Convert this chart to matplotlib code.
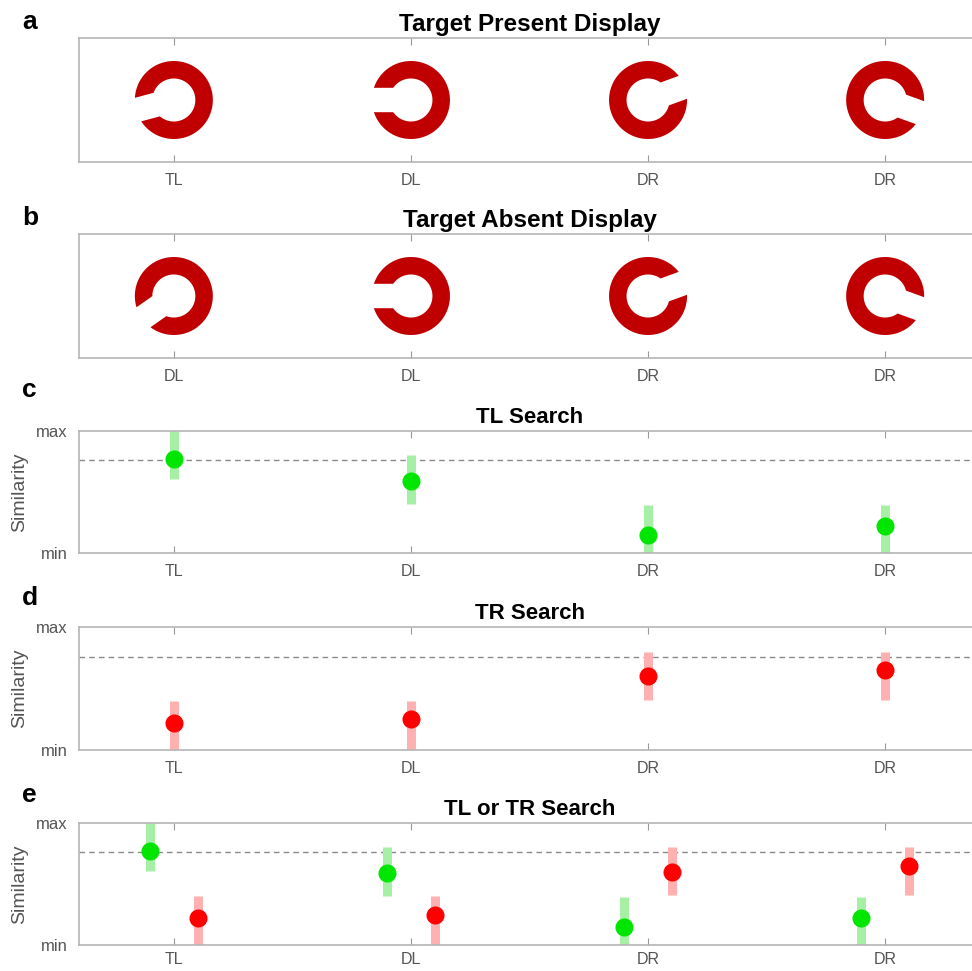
# Visual search displays and similarity estimates (panels a-e)

import numpy as np
import matplotlib
matplotlib.use("Agg")
import matplotlib.pyplot as plt
from matplotlib.patches import Polygon
from matplotlib.transforms import ScaledTranslation

plt.rcParams['font.family'] = ['Liberation Sans', 'DejaVu Sans']

# Data
positions = [1, 2, 3, 4]
present_labels = ["TL", "DL", "DR", "DR"]
absent_labels = ["DL", "DL", "DR", "DR"]
# gap direction of each ring (degrees, counter-clockwise from right)
present_gaps = [195, 180, 20, -20]
absent_gaps = [215, 180, 20, -20]

threshold = 0.76
tl_sim = [0.77, 0.59, 0.15, 0.22]
tl_low = [0.61, 0.40, 0.00, 0.00]
tl_high = [1.00, 0.80, 0.39, 0.39]
tr_sim = [0.22, 0.25, 0.60, 0.65]
tr_low = [0.00, 0.00, 0.41, 0.41]
tr_high = [0.40, 0.40, 0.80, 0.80]

gray = "#555555"
spine_gray = "#b5b5b5"
ring_red = "#c00000"
green = "#00e600"
green_light = "#a6f0a6"
red = "#ff0000"
red_light = "#ffb0b0"

fig = plt.figure(figsize=(9.72, 9.71), dpi=100)

L, W = 79 / 972, 901 / 972
H = 971


def make_ax(top, bottom, pad=8):
    ax = fig.add_axes([L, 1 - bottom / H, W, (bottom - top) / H])
    ax.set_xlim(0.6, 4.4)
    for s in ax.spines.values():
        s.set_color(spine_gray)
        s.set_linewidth(1.2)
    ax.tick_params(axis='x', direction='in', top=True, bottom=True,
                   length=5, color="#999999", labelcolor=gray,
                   labelsize=11.5, pad=pad)
    ax.set_xticks(positions)
    return ax


def ring_vertices(angle, R=0.39, r=0.215, h=0.122):
    # annulus with a parallel-sided slot, sizes in inches
    th = np.deg2rad(angle)
    ao = np.arcsin(h / R)
    ai = np.arcsin(h / r)
    outer = np.linspace(th + ao, th + 2 * np.pi - ao, 200)
    inner = np.linspace(th + 2 * np.pi - ai, th + ai, 120)
    xs = np.concatenate([R * np.cos(outer), r * np.cos(inner)])
    ys = np.concatenate([R * np.sin(outer), r * np.sin(inner)])
    return np.column_stack([xs, ys])


def draw_display(ax, labels, gaps, title):
    ax.set_ylim(0, 1)
    ax.set_yticks([])
    ax.set_xticklabels(labels)
    ax.set_title(title, fontsize=17.5, fontweight='bold', pad=5)
    for x, g in zip(positions, gaps):
        tr = fig.dpi_scale_trans + ScaledTranslation(x, 0.5, ax.transData)
        ax.add_patch(Polygon(ring_vertices(g), closed=True, transform=tr,
                             facecolor=ring_red, edgecolor='none'))


def draw_sim(ax, title, series):
    ax.set_ylim(0, 1)
    ax.set_yticks([0, 1])
    ax.set_yticklabels(["min", "max"])
    ax.tick_params(axis='y', length=0, labelcolor=gray, labelsize=12, pad=8)
    ax.set_xticklabels(present_labels)
    ax.set_ylabel("Similarity", fontsize=14, color=gray, labelpad=6)
    ax.set_title(title, fontsize=16, fontweight='bold', pad=6)
    ax.axhline(threshold, color="#8a8a8a", linestyle=(0, (4, 3)), linewidth=1)
    for offset, vals, lo, hi, c, cl in series:
        xs = [p + offset for p in positions]
        ax.vlines(xs, lo, hi, color=cl, linewidth=6.5, zorder=2)
        ax.plot(xs, vals, 'o', color=c, markersize=13, markeredgewidth=0,
                zorder=3)


ax_a = make_ax(38, 162)
draw_display(ax_a, present_labels, present_gaps, "Target Present Display")

ax_b = make_ax(234, 358)
draw_display(ax_b, absent_labels, absent_gaps, "Target Absent Display")

ax_c = make_ax(431, 553)
draw_sim(ax_c, "TL Search",
         [(0, tl_sim, tl_low, tl_high, green, green_light)])

ax_d = make_ax(627, 750)
draw_sim(ax_d, "TR Search",
         [(0, tr_sim, tr_low, tr_high, red, red_light)])

ax_e = make_ax(823, 945, pad=5)
draw_sim(ax_e, "TL or TR Search",
         [(-0.1, tl_sim, tl_low, tl_high, green, green_light),
          (0.1, tr_sim, tr_low, tr_high, red, red_light)])

# Panel letters
for letter, ypx in zip("abcde", [22, 218, 390, 598, 795]):
    fig.text(22 / 972, 1 - ypx / H, letter, fontsize=19, fontweight='bold',
             ha='left', va='center')

fig.savefig("out.png", dpi=100)
